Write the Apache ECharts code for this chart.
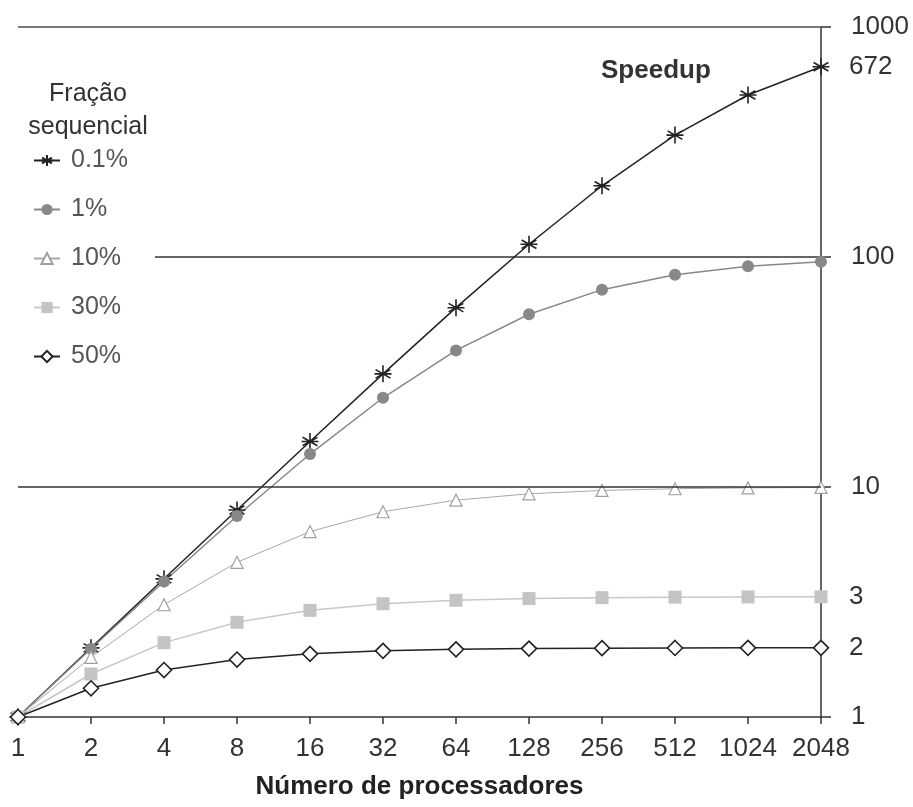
<!DOCTYPE html>
<html>
<head>
<meta charset="utf-8">
<script src="https://cdn.jsdelivr.net/npm/echarts@6/dist/echarts.min.js"></script>
<style>html,body{margin:0;padding:0;background:#fff}#c{width:913px;height:807px}</style>
</head>
<body>
<div id="c"></div>
<script>
// ---- data ----
var processors = ['1','2','4','8','16','32','64','128','256','512','1024','2048'];
var seriesNames = ['0.1%','1%','10%','30%','50%'];
var s01  = [1, 1.998, 3.988, 7.944, 15.76, 31.04, 60.21, 113.6, 204.0, 338.8, 506.2, 672.1];
var s1   = [1, 1.980, 3.883, 7.477, 13.91, 24.43, 39.26, 56.39, 72.11, 83.80, 91.18, 95.39];
var s10  = [1, 1.818, 3.077, 4.706, 6.400, 7.805, 8.767, 9.343, 9.660, 9.827, 9.913, 9.956];
var s30  = [1, 1.538, 2.105, 2.581, 2.909, 3.107, 3.216, 3.274, 3.303, 3.318, 3.326, 3.330];
var s50  = [1, 1.333, 1.600, 1.778, 1.882, 1.939, 1.969, 1.984, 1.992, 1.996, 1.998, 1.999];
var endLabels = ['672', '', '', '3', '2'];
var yTicks = [1, 10, 100, 1000];
var xTitle = 'Número de processadores';
var chartTitle = 'Speedup';
var legendTitle = 'Fração\nsequencial';

var FONT = 'Liberation Sans, Arial, sans-serif';
var asterisk = 'path://M0,-10L0,10M-8.7,-5L8.7,5M-8.7,5L8.7,-5M-10,0L10,0';

function mk(name, data, opt, endLab) {
  var s = {
    name: name, type: 'line', data: data,
    symbol: opt.symbol, symbolSize: opt.size,
    lineStyle: { color: opt.line, width: opt.lw },
    itemStyle: { color: opt.fill, borderColor: opt.border, borderWidth: opt.bw },
    emphasis: { disabled: true },
    animation: false
  };
  if (endLab) {
    s.endLabel = { show: true, formatter: endLab, distance: 28,
      fontSize: 26, fontFamily: FONT, color: '#333' };
  }
  return s;
}

var series = [
  mk(seriesNames[0], s01, {symbol: asterisk, size: 17, line: '#222', lw: 1.5, fill: '#222', border: '#222', bw: 1.6}, endLabels[0]),
  mk(seriesNames[1], s1,  {symbol: 'circle', size: 12, line: '#888', lw: 1.5, fill: '#888', border: '#888', bw: 0}, endLabels[1]),
  mk(seriesNames[2], s10, {symbol: 'triangle', size: 12, line: '#a8a8a8', lw: 1, fill: '#fff', border: '#a0a0a0', bw: 1.2}, endLabels[2]),
  mk(seriesNames[3], s30, {symbol: 'rect', size: 13, line: '#c8c8c8', lw: 1.5, fill: '#c4c4c4', border: '#c4c4c4', bw: 0}, endLabels[3]),
  mk(seriesNames[4], s50, {symbol: 'diamond', size: 15, line: '#222', lw: 1.5, fill: '#fff', border: '#222', bw: 1.6}, endLabels[4])
];
series[0].markLine = {
  silent: true, symbol: 'none', animation: false,
  label: { show: false },
  data: [
    { yAxis: yTicks[1], lineStyle: { color: '#333', width: 1.5, type: 'solid' } },
    { yAxis: yTicks[3], lineStyle: { color: '#7a7a7a', width: 2.2, type: 'solid' } }
  ]
};

var chart = echarts.init(document.getElementById('c'), null, { renderer: 'canvas' });
chart.setOption({
  backgroundColor: '#fff',
  animation: false,
  textStyle: { fontFamily: FONT },
  grid: { left: 18, right: 92, top: 27, bottom: 90, containLabel: false },
  title: {
    text: chartTitle, left: 596, top: 53,
    textStyle: { fontSize: 26, fontWeight: 'bold', color: '#333', fontFamily: FONT }
  },
  legend: {
    orient: 'vertical', left: 28, top: 143,
    itemWidth: 26, itemHeight: 14, itemGap: 24,
    data: seriesNames,
    textStyle: { fontSize: 25, color: '#555', fontFamily: FONT, padding: [0, 0, 0, 6] },
    selectedMode: false
  },
  xAxis: {
    type: 'category', data: processors, boundaryGap: false,
    axisLine: { lineStyle: { color: '#333', width: 1.5 } },
    axisTick: { show: true, length: 7, lineStyle: { color: '#333', width: 1.5 }, interval: 0 },
    axisLabel: { fontSize: 26, color: '#333', margin: 19, interval: 0, fontFamily: FONT },
    splitLine: { show: false },
    name: xTitle, nameLocation: 'middle', nameGap: 57,
    nameTextStyle: { fontSize: 26, fontWeight: 'bold', color: '#222', fontFamily: FONT }
  },
  yAxis: {
    type: 'log', logBase: 10, min: yTicks[0], max: yTicks[3], position: 'right',
    axisLine: { show: true, lineStyle: { color: '#333', width: 1.5 } },
    axisTick: { show: true, length: 10, inside: false, lineStyle: { color: '#333', width: 1.5 } },
    axisLabel: { fontSize: 26, color: '#333', margin: 30, fontFamily: FONT,
      formatter: function (v) { return String(Math.round(v)); } },
    splitLine: { show: false },
    minorTick: { show: false }
  },
  graphic: [],
  series: series
});

var y100 = chart.convertToPixel({ yAxisIndex: 0 }, yTicks[2]);
var xRight = chart.convertToPixel({ xAxisIndex: 0 }, processors.length - 1);
chart.setOption({
  graphic: [
    { type: 'line', silent: true, z: 1,
      shape: { x1: 155, y1: y100, x2: xRight, y2: y100 },
      style: { stroke: '#333', lineWidth: 1.5 } },
    { type: 'text', silent: true, x: 88, y: 78, z: 5,
      style: { text: legendTitle, align: 'center', verticalAlign: 'top',
        font: '25px ' + FONT, fill: '#333', lineHeight: 33 } }
  ]
});
</script>
</body>
</html>
